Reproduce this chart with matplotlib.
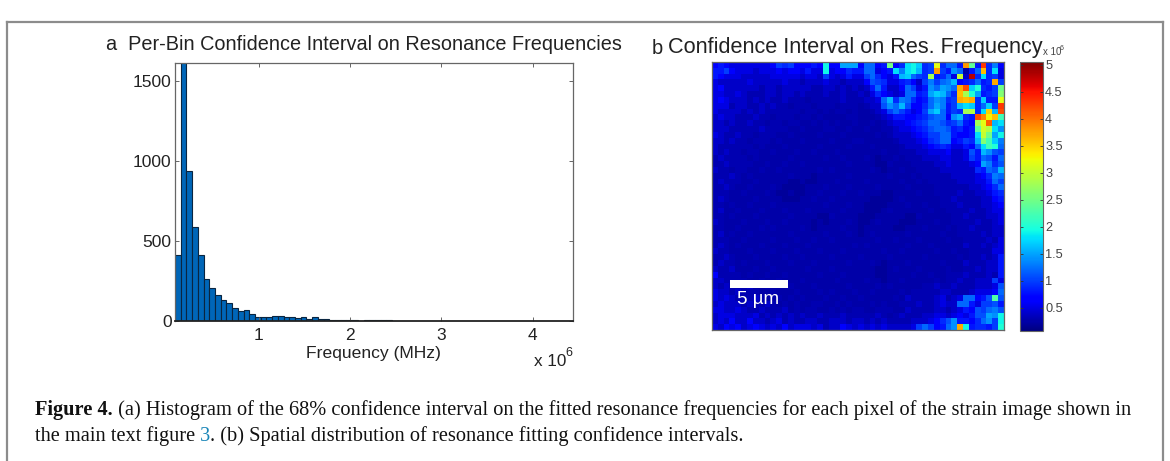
import numpy as np
import string
import matplotlib
matplotlib.use("Agg")
import matplotlib.pyplot as plt
from matplotlib.lines import Line2D
from matplotlib.patches import Rectangle

W, H = 1170, 461
plt.rcParams['font.family'] = ['Liberation Sans', 'DejaVu Sans']

# histogram, counts per bin
bin_start = 0.086e6
bin_width = 0.0625e6
counts = [410, 1700, 935, 587, 410, 261, 205, 160, 133, 112,
          83, 62, 68, 44, 27, 27, 23, 29, 31, 27,
          23, 17, 25, 15, 23, 12, 12, 8, 6, 5,
          5, 4, 3, 5, 6, 5, 5, 4, 3, 2,
          2, 2, 2, 3, 2, 1, 3, 1, 1, 1,
          1, 1, 1, 1, 1, 1, 1, 1, 1, 1,
          0, 1, 1, 1, 0, 0, 1, 1, 1, 2]
hist_yticks = [0, 500, 1000, 1500]
hist_xticks = [1e6, 2e6, 3e6, 4e6]
hist_xlabels = ['1', '2', '3', '4']

# map values, one character per pixel, see alphabet below (steps of 0.1 x 10^6)
alphabet = string.digits + string.ascii_lowercase + string.ascii_uppercase
# the dark background levels read finer than 0.1
low_levels = {'2': 0.2e6, '3': 0.25e6, '4': 0.3e6, '5': 0.4e6, '6': 0.5e6}
map_left = [
    "78766 66666 7a9a7 7787j 77fff",
    "88a76 66566 67677 6866j 67798",
    "87666 55555 66666 5665a 65686",
    "65555 56555 55655 45556 55455",
    "67555 55545 54555 55445 54545",
    "66556 54445 54554 54445 44544",
    "67655 54545 44544 43444 44544",
    "66645 54454 54434 44344 43444",
    "65555 45454 44444 34434 34434",
    "56554 44544 34443 44343 33344",
    "55454 45443 44344 33434 34334",
    "55544 44454 44433 43334 43343",
    "65445 44344 43343 33343 33433",
    "55454 43444 34333 43333 43334",
    "54444 44343 33433 33343 33343",
    "54544 34433 43334 33433 34333",
    "45444 43433 33343 33334 33433",
    "44544 44334 33433 43333 33343",
    "54434 43343 34333 33343 43333",
    "44454 34333 33343 33233 33343",
    "45444 33433 33322 32233 34333",
    "44543 34333 43222 23334 33343",
    "44433 43334 32232 23343 33433",
    "45433 33433 33222 33433 43333",
    "44343 34333 43333 33334 33343",
    "45334 33343 33433 34333 33433",
    "44343 33433 33343 33322 43333",
    "54333 43334 33433 33232 33343",
    "44334 33343 43333 43233 33433",
    "45343 34333 33343 33334 33343",
    "44433 43333 43334 33433 43333",
    "45434 33343 33433 34333 33334",
    "54433 34333 43334 33343 33433",
    "44543 33433 33433 43333 43333",
    "45443 43334 33343 33433 33343",
    "54453 33433 43333 34333 43333",
    "74444 34334 33433 33343 33433",
    "55444 43343 34333 43333 34333",
    "54544 45334 33343 33433 33343",
    "65545 44433 43334 33343 43334",
    "65654 44543 34343 43334 33433",
    "56555 45445 43434 33443 34343",
    "66556 54454 44534 34433 43434",
    "56665 55645 45454 54454 44544",
    "56575 57554 56454 45544 55545",
    "65767 56765 65756 66564 55765",
]
map_right = [
    "7cc78 p79ij h9aw9 cc8Co 8H9d7",
    "8cc67 8idij g9aCa 8ec38 cA9i6",
    "6ac97 68ghc a9s89 c6u5M 9i9a6",
    "57ba9 66897 5adac dg789 c89Ba",
    "458c8 557ca 68ecf ecBGh k98ap",
    "54697 656cc 89fhg c9Ask f89aq",
    "4556c g9dc9 78ced 9aBAB 9h88w",
    "3455b ecgb7 79cfd 8agih 9chaH",
    "33456 aca86 7afhc 8a9st 9izgG",
    "33345 68877 89bcc 7eg98 GDxAm",
    "33434 56678 9accb 9ac87 swFgi",
    "34334 45667 89bcc b8978 ovtie",
    "33343 45556 78aac c8778 iupfj",
    "43333 34555 679ac c78a9 gqmhd",
    "33433 33455 56789 86687 cimkc",
    "33334 33444 55666 7556b 8geba",
    "34323 34344 45556 6556a 8cb8c",
    "33322 43334 44455 65556 7fd9b",
    "33432 33433 44445 55555 98cbg",
    "33333 43334 34444 45555 679dc",
    "34333 33433 43444 44555 668ca",
    "33343 33343 33344 44445 5679c",
    "43332 23333 43344 44544 55689",
    "33222 23433 33334 45444 45578",
    "32222 33343 34334 44544 45567",
    "32223 43333 33433 44445 44566",
    "22233 33322 43333 34454 44556",
    "22343 33222 33343 34444 54456",
    "23333 32233 34333 43445 44455",
    "23433 33343 33334 33444 45455",
    "33343 34333 43333 43344 44546",
    "34333 33343 33433 33354 45456",
    "33334 33433 33343 34334 44466",
    "43333 43333 34333 33434 45458",
    "33432 33343 33334 33354 44558",
    "33322 34333 43333 43344 54558",
    "33322 33334 33433 44454 44548",
    "34332 33433 33343 44544 555a6",
    "33343 43333 34454 45444 5556b",
    "33433 33434 44445 54445 6667c",
    "43333 34354 44456 456cc 78bnb",
    "33434 33444 54456 55cc8 6aab8",
    "43344 43354 44455 45687 bacdb",
    "44454 34544 45566 56768 bbfej",
    "54545 44445 55679 be887 9ceaj",
    "65656 55556 aca78 ceBj8 998ak",
]
cbar_ticks = [0.5e6, 1e6, 1.5e6, 2e6, 2.5e6, 3e6, 3.5e6, 4e6, 4.5e6, 5e6]
cbar_labels = ['0.5', '1', '1.5', '2', '2.5', '3', '3.5', '4', '4.5', '5']

caption_1 = [("Figure 4.", 'bold', '#111111'),
             (" (a) Histogram of the 68% confidence interval on the fitted resonance frequencies for each pixel of the strain image shown in", 'normal', '#111111')]
caption_2 = [("the main text figure ", 'normal', '#111111'),
             ("3", 'normal', '#1a86b8'),
             (". (b) Spatial distribution of resonance fitting confidence intervals.", 'normal', '#111111')]


def to_values(left, right):
    rows = []
    for a, b in zip(left, right):
        row = (a + b).replace(" ", "")
        rows.append([low_levels.get(c, alphabet.index(c) * 0.1e6) for c in row])
    return np.array(rows)


def add_axes_px(fig, x0, y0, x1, y1):
    return fig.add_axes([x0 / W, 1 - y1 / H, (x1 - x0) / W, (y1 - y0) / H])


def fig_text(fig, x, y, s, **kw):
    return fig.text(x / W, 1 - y / H, s, **kw)


def write_line(fig, x, y, parts):
    # writes the pieces of a caption line one after the other
    renderer = fig.canvas.get_renderer()
    for s, weight, color in parts:
        t = fig_text(fig, x, y, s.replace(" ", "\u00a0"), family='Liberation Serif', fontsize=cap_size,
                     weight=weight, color=color, va='baseline', ha='left')
        x = t.get_window_extent(renderer).x1


cap_size = 14.7
axis_gray = '#666666'
text_gray = '#222222'

fig = plt.figure(figsize=(W / 100, H / 100), dpi=100)

# page frame
for xs, ys in [([7, 7], [22, H]), ([1163, 1163], [22, H]), ([7, 1163], [22, 22])]:
    fig.add_artist(Line2D([x / W for x in xs], [1 - y / H for y in ys], color='#8c8c8c', lw=1.6))

# panel a
ax = add_axes_px(fig, 175, 63, 573, 321)
edges = bin_start + bin_width * np.arange(len(counts))
ax.bar(edges, counts, width=bin_width, align='edge', color='#0066b8', edgecolor='#0a2540', linewidth=0.8)
ax.set_xlim(0.086e6, 4.44e6)
ax.set_ylim(0, 1612)
ax.set_xticks(hist_xticks)
ax.set_xticklabels(hist_xlabels)
ax.set_yticks(hist_yticks)
ax.tick_params(direction='in', top=True, right=True, length=3, width=0.7, color=axis_gray,
               labelsize=12.5, labelcolor=text_gray)
ax.tick_params(axis='x', pad=5)
ax.tick_params(axis='y', pad=2.5)
for side in ax.spines.values():
    side.set_color(axis_gray)
    side.set_linewidth(0.9)
ax.spines['bottom'].set_color('#222222')
ax.spines['bottom'].set_linewidth(1.3)
fig_text(fig, 106, 50, "a  Per-Bin Confidence Interval on Resonance Frequencies", fontsize=14.3,
         color=text_gray, va='baseline')
fig_text(fig, 373, 358, "Frequency (MHz)", fontsize=12.6, color=text_gray, ha='center', va='baseline')
fig_text(fig, 534, 366, "x 10", fontsize=12.3, color=text_gray, va='baseline')
fig_text(fig, 565, 356, "6", fontsize=9, color=text_gray, va='baseline')

# panel b
ax2 = add_axes_px(fig, 712, 62, 1004, 330)
values = to_values(map_left, map_right)
im = ax2.imshow(values, cmap='jet', vmin=0.07e6, vmax=5.05e6, aspect='auto', interpolation='nearest')
ax2.set_xticks([])
ax2.set_yticks([])
for side in ax2.spines.values():
    side.set_color(axis_gray)
    side.set_linewidth(0.9)
ax2.add_patch(Rectangle((18 / 292, 42 / 268), 58 / 292, 8 / 268, transform=ax2.transAxes,
                        color='white', lw=0))
ax2.text(46 / 292, 31 / 268, "5 \u00b5m", transform=ax2.transAxes, color='white', fontsize=13.5,
         ha='center', va='center')
fig_text(fig, 652, 54, "b", fontsize=14.4, color=text_gray, va='baseline')
fig_text(fig, 668, 53, "Confidence Interval on Res. Frequency", fontsize=15.6, color=text_gray, va='baseline')

cax = add_axes_px(fig, 1020, 62, 1043, 331)
cb = fig.colorbar(im, cax=cax)
cb.set_ticks(cbar_ticks)
cb.set_ticklabels(cbar_labels)
cax.tick_params(direction='in', left=True, right=True, length=2.5, width=0.6, color='#333333',
                labelsize=9.2, labelcolor='#444444', pad=1.5)
cb.outline.set_edgecolor(axis_gray)
cb.outline.set_linewidth(0.8)
fig_text(fig, 1043, 55, "x 10", fontsize=7, color='#444444', va='baseline')
fig_text(fig, 1060, 50, "6", fontsize=5, color='#444444', va='baseline')

# caption
fig.canvas.draw()
write_line(fig, 35, 415, caption_1)
write_line(fig, 35, 441, caption_2)

fig.savefig("out.png", dpi=100)
